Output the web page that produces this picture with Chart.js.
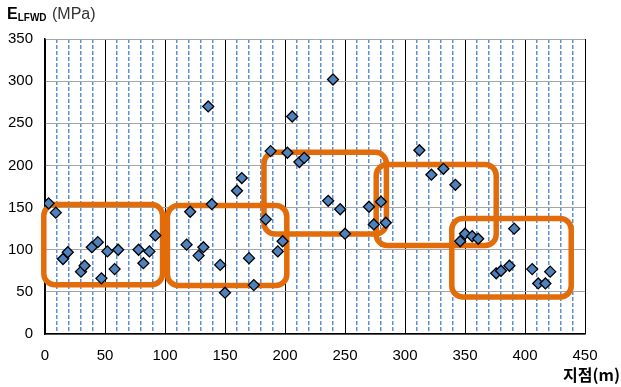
<!DOCTYPE html>
<html>
<head>
<meta charset="utf-8">
<script src="https://cdn.jsdelivr.net/npm/chart.js@4"></script>
<style>
  body { margin: 0; background: #fff; }
  #wrap { width: 621px; height: 387px; position: relative; }
</style>
</head>
<body>
<div id="wrap"><canvas id="chart"></canvas></div>
<script>
// station (m) and E_LFWD (MPa)
const stations = [3, 9, 15, 19, 30, 33, 39, 44, 47, 52, 58, 61, 78, 82, 87, 92,
  118, 121, 128, 132, 136, 139, 146, 150, 160, 164, 170, 174, 184, 188, 194, 198,
  202, 206, 212, 216, 236, 240, 246, 250, 270, 274, 280, 284,
  312, 322, 332, 342, 346, 350, 356, 361, 376, 380, 387, 391, 406, 411, 417, 421];
const moduli = [155, 144, 89, 97, 74, 81, 103, 109, 66, 98, 77, 100, 100, 84, 98, 117,
  106, 145, 93, 103, 270, 154, 82, 49, 170, 185, 90, 58, 136, 217, 98, 110,
  215, 258, 204, 209, 158, 302, 148, 119, 151, 130, 157, 132,
  218, 189, 196, 177, 110, 119, 116, 113, 72, 75, 81, 125, 77, 60, 60, 74];

const xTicks = [0, 50, 100, 150, 200, 250, 300, 350, 400, 450];
const yTicks = [0, 50, 100, 150, 200, 250, 300, 350];

// highlighted groups: [xFrom, xTo, yFrom, yTo]
const groupBoxes = [
  [-1, 98, 58.5, 153.5],
  [102, 201.5, 57.5, 152.5],
  [182.5, 284.5, 118.5, 215.5],
  [276, 376, 105, 201],
  [339, 438.5, 44, 137]
];

const points = stations.map((s, i) => ({ x: s, y: moduli[i] }));

const boxPlugin = {
  id: 'groupBoxes',
  beforeDatasetsDraw(chart) {
    const { ctx, scales: { x, y } } = chart;
    ctx.save();
    ctx.strokeStyle = '#E36C0A';
    ctx.lineWidth = 5.5;
    for (const b of groupBoxes) {
      const l = x.getPixelForValue(b[0]);
      const r = x.getPixelForValue(b[1]);
      const t = y.getPixelForValue(b[3]);
      const btm = y.getPixelForValue(b[2]);
      ctx.beginPath();
      ctx.roundRect(l, t, r - l, btm - t, 11);
      ctx.stroke();
    }
    ctx.restore();
  }
};

const titlePlugin = {
  id: 'axisTitles',
  afterDraw(chart) {
    const ctx = chart.ctx;
    ctx.save();
    ctx.fillStyle = '#000';
    ctx.textBaseline = 'alphabetic';
    ctx.textAlign = 'left';
    ctx.font = 'bold 16px "Liberation Sans", Arial, sans-serif';
    ctx.fillText('E', 7, 19);
    let w = ctx.measureText('E').width;
    ctx.font = 'bold 10px "Liberation Sans", Arial, sans-serif';
    ctx.fillText('LFWD', 7 + w, 21);
    w += ctx.measureText('LFWD').width;
    ctx.font = '16px "Liberation Sans", Arial, sans-serif';
    ctx.fillStyle = '#333';
    ctx.fillText(' (MPa)', 7 + w + 1, 19);
    ctx.fillStyle = '#000';
    ctx.textAlign = 'right';
    ctx.font = 'bold 16px "Noto Sans CJK KR", sans-serif';
    ctx.fillText('지점(m)', 620, 381);
    ctx.restore();
  }
};

const dashOf = c => (c.tick && c.tick.value % 50 !== 0) ? [4, 2] : [];

new Chart(document.getElementById('chart'), {
  type: 'scatter',
  data: {
    datasets: [{
      data: points,
      pointStyle: 'rectRot',
      pointRadius: 5.5,
      pointHoverRadius: 5.5,
      backgroundColor: '#4F81BD',
      borderColor: '#000',
      borderWidth: 1.3
    }]
  },
  options: {
    responsive: true,
    maintainAspectRatio: false,
    animation: false,
    layout: { padding: { left: 0, right: 36, top: 39, bottom: 9 } },
    plugins: {
      legend: { display: false },
      tooltip: { enabled: false }
    },
    scales: {
      x: {
        type: 'linear',
        min: 0,
        max: 450,
        afterBuildTicks: s => {
          const t = [];
          for (let v = 0; v <= 450; v += 10) t.push({ value: v });
          s.ticks = t;
        },
        ticks: {
          autoSkip: false,
          maxRotation: 0,
          padding: 13,
          color: '#000',
          font: { size: 15, family: '"Liberation Sans", Arial, sans-serif' },
          callback: v => xTicks.includes(v) ? String(v) : ''
        },
        grid: {
          drawTicks: false,
          lineWidth: c => (c.tick && c.tick.value % 50 === 0) ? 1 : 1.5,
          color: c => (c.tick && c.tick.value % 50 === 0) ? '#000' : '#5B8FD8'
        },
        border: { display: true, color: '#000', width: 1.5, dash: dashOf }
      },
      y: {
        min: 0,
        max: 350,
        afterBuildTicks: s => { s.ticks = yTicks.map(v => ({ value: v })); },
        afterFit: s => { s.width = 45; },
        ticks: {
          padding: 12,
          color: '#000',
          font: { size: 15, family: '"Liberation Sans", Arial, sans-serif' }
        },
        grid: { drawTicks: false, color: '#A6A6A6', lineWidth: 1 },
        border: { display: true, color: '#000', width: 1.5 }
      }
    }
  },
  plugins: [boxPlugin, titlePlugin]
});
</script>
</body>
</html>
